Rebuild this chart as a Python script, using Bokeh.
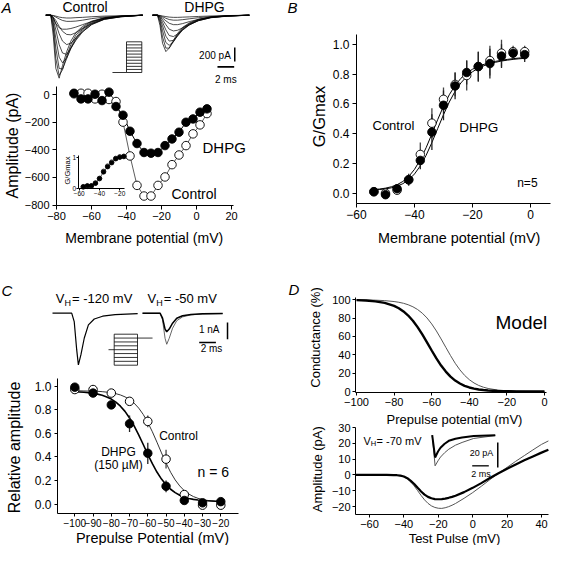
from math import pi
from bokeh.plotting import figure
from bokeh.models import Range1d, FixedTicker, NumeralTickFormatter, Label, LinearAxis
from bokeh.embed import file_html
from bokeh.resources import INLINE

FONT = "Liberation Sans"

# ---------------- Panel A: current traces (ms, pA) ----------------
TRACE_T = [0.0, 0.6, 0.9, 1.2, 1.6, 2.0, 2.5, 3.0, 3.6, 4.4, 5.5, 7.0, 9.0, 11.6]
CTRL_TRACES = [
    [0, 0, -300, -760, -900, -720, -520, -370, -250, -160, -85, -35, -12, 0],
    [0, 0, -200, -620, -860, -780, -580, -420, -285, -180, -95, -40, -14, 0],
    [0, 0, -140, -470, -760, -770, -620, -460, -320, -200, -105, -45, -16, 0],
    [0, 0, -100, -330, -600, -680, -610, -480, -345, -220, -118, -50, -18, 0],
    [0, 0, -60, -210, -420, -540, -560, -470, -360, -240, -130, -56, -20, 0],
    [0, 0, -40, -125, -265, -370, -420, -400, -330, -235, -135, -60, -23, 0],
    [0, 0, -28, -75, -160, -230, -275, -280, -250, -190, -120, -58, -23, 0],
    [0, 0, -40, -120, -180, -200, -200, -190, -170, -135, -90, -45, -18, 0],
    [0, 0, -9, -27, -53, -75, -88, -88, -84, -71, -49, -27, -13, 0],
    [0, 0, -4, -13, -27, -35, -40, -40, -35, -31, -22, -13, -7, 0],
]
DHPG_TRACES = [
    [0, 0, -150, -400, -520, -470, -360, -260, -175, -110, -58, -24, -8, 0],
    [0, 0, -100, -310, -470, -470, -380, -280, -190, -120, -63, -26, -9, 0],
    [0, 0, -70, -220, -390, -430, -380, -295, -205, -130, -68, -29, -10, 0],
    [0, 0, -48, -150, -300, -370, -360, -295, -215, -140, -74, -32, -11, 0],
    [0, 0, -33, -100, -210, -290, -305, -270, -205, -140, -78, -34, -12, 0],
    [0, 0, -22, -64, -135, -200, -225, -215, -180, -130, -78, -36, -14, 0],
    [0, 0, -18, -40, -80, -115, -135, -135, -120, -92, -60, -30, -12, 0],
    [0, 0, -9, -22, -44, -62, -71, -71, -64, -52, -36, -20, -9, 0],
    [0, 0, -4, -11, -20, -27, -31, -31, -28, -24, -18, -11, -5, 0],
]
DHPG_TRACE_START = 12.78          # ms, where the DHPG sweep set is drawn
A_SCALE_PA, A_SCALE_MS = 200, 2
A_STEP_LEVELS = [-80, -72, -64, -56, -48, -40, -32, -24, -16, -8, 0]
A_HOLD, A_HOLD_DUR, A_STEP_DUR = -80, 1.68, 1.83

# ---------------- Panel A: I-V relation ----------------
A_V = [-70, -66, -62, -58, -54, -50, -46, -42, -38, -34, -30, -26, -22, -18, -14, -10, -6, -2, 2, 6]
A_CONTROL = [5, 9, 9, -32, 2, -36, -51, -200, -445, -658, -735, -735, -658, -597, -508, -438, -370, -285, -220, -138]
A_DHPG = [9, -32, -32, 2, -44, 17, -87, -150, -266, -355, -420, -425, -420, -370, -322, -273, -201, -177, -128, -104]
A_INSET_V = [-56, -52, -48, -44, -40, -36, -32, -28, -24, -20, -16]
A_INSET_CTRL = [0.04, 0.06, 0.07, 0.17, 0.31, 0.55, 0.72, 0.85, 0.97, 1.02, 1.04]
A_INSET_DHPG = [0.05, 0.08, 0.08, 0.16, 0.32, 0.53, 0.70, 0.83, 0.96, 1.01, 1.03]

# ---------------- Panel B: activation ----------------
B_V = [-54, -50, -46, -42, -38, -34, -30, -26, -22, -18, -14, -10, -6, -2]
B_CTRL = [0.01, 0.00, 0.02, 0.09, 0.26, 0.47, 0.63, 0.73, 0.79, 0.85, 0.89, 0.94, 0.95, 0.95]
B_CTRL_ERR = [0.01, 0.01, 0.02, 0.03, 0.08, 0.10, 0.08, 0.08, 0.10, 0.10, 0.10, 0.09, 0.04, 0.04]
B_DHPG = [0.01, -0.01, 0.03, 0.09, 0.22, 0.41, 0.59, 0.72, 0.81, 0.85, 0.87, 0.92, 0.94, 0.93]
B_DHPG_ERR = [0.01, 0.01, 0.02, 0.04, 0.06, 0.12, 0.10, 0.09, 0.08, 0.10, 0.10, 0.08, 0.04, 0.05]
B_FIT_V = [-54, -52, -50, -48, -46, -44, -42, -40, -38, -36, -34, -32, -30, -28, -26, -24,
           -22, -20, -18, -16, -14, -12, -10, -8, -6, -4, -2]
B_FIT_CTRL = [.025, .028, .034, .043, .057, .079, .112, .160, .225, .305, .398, .494, .584, .661,
              .723, .771, .806, .832, .851, .865, .876, .885, .892, .898, .903, .907, .910]
B_FIT_DHPG = [.022, .025, .029, .036, .047, .064, .090, .129, .183, .254, .340, .434, .527, .612,
              .684, .740, .783, .815, .839, .856, .869, .879, .887, .893, .898, .902, .905]

# ---------------- Panel C: inactivation ----------------
C_TRACE_T_LEFT = [0, 2.3, 2.6, 2.9, 3.1, 3.4, 3.8, 4.3, 5.0, 6.0, 7.5, 10.2]
C_TRACE_LEFT = [0, 0, -0.5, -2.2, -3.1, -2.5, -1.5, -0.7, -0.35, -0.18, -0.08, -0.03]
C_TRACE_T_RIGHT = [0, 2.1, 2.4, 2.7, 2.9, 3.2, 3.6, 4.1, 4.8, 5.8, 7.2, 9.6]
C_TRACE_CTRL = [0, 0, -0.4, -1.5, -1.86, -1.5, -0.9, -0.45, -0.22, -0.1, -0.05, -0.02]
C_TRACE_DHPG = [0, 0, -0.3, -0.95, -1.11, -0.95, -0.6, -0.3, -0.15, -0.08, -0.04, -0.02]
C_RIGHT_START = 10.78
C_SCALE_NA, C_SCALE_MS = 1, 2
C_PRE_LEVELS = [-100, -90, -80, -70, -60, -50, -40, -30, -20]
C_HOLD, C_TEST = -60, -30
C_HOLD_DUR, C_PRE_DUR, C_TEST_DUR = 0.68, 2.79, 1.8

C_V = [-100, -90, -80, -70, -60, -50, -40, -30, -20]
C_CTRL = [0.97, 0.97, 0.94, 0.87, 0.70, 0.38, 0.08, -0.01, -0.01]
C_CTRL_ERR = [0.01, 0.02, 0.02, 0.03, 0.05, 0.08, 0.02, 0.01, 0.01]
C_DHPG = [0.99, 0.94, 0.84, 0.68, 0.43, 0.15, 0.03, 0.01, 0.02]
C_DHPG_ERR = [0.02, 0.02, 0.03, 0.07, 0.09, 0.05, 0.02, 0.01, 0.01]
C_FIT_V = [-100, -97.5, -95, -92.5, -90, -87.5, -85, -82.5, -80, -77.5, -75, -72.5, -70, -67.5,
           -65, -62.5, -60, -57.5, -55, -52.5, -50, -47.5, -45, -42.5, -40, -37.5, -35, -32.5,
           -30, -27.5, -25, -22.5, -20]
C_FIT_CTRL = [.959, .959, .958, .957, .956, .955, .952, .948, .943, .935, .924, .908, .886, .855,
              .813, .759, .691, .612, .524, .433, .347, .269, .204, .153, .113, .084, .063, .048,
              .038, .031, .026, .022, .020]
C_FIT_DHPG = [.951, .949, .947, .943, .938, .931, .921, .907, .889, .863, .829, .785, .729, .662,
              .586, .504, .421, .342, .271, .211, .163, .125, .096, .074, .059, .047, .039, .034,
              .030, .027, .025, .023, .022]

# ---------------- Panel D: model ----------------
D_TOP_V = [-100, -95, -90, -85, -80, -77.5, -75, -72.5, -70, -67.5, -65, -62.5, -60, -57.5, -55,
           -52.5, -50, -47.5, -45, -42.5, -40, -37.5, -35, -32.5, -30, -25, -20, -15, -10, -5, 0]
D_TOP_DHPG = [99.6, 99.2, 98.3, 96.6, 93.4, 90.8, 87.3, 82.8, 77.1, 70.2, 62.2, 53.6, 44.7, 36.1,
              28.3, 21.7, 16.2, 11.9, 8.7, 6.2, 4.4, 3.1, 2.2, 1.6, 1.1, 0.5, 0.3, 0.1, 0.1, 0.0, 0.0]
D_TOP_CTRL = [99.9, 99.8, 99.6, 99.1, 98.1, 97.3, 96.2, 94.6, 92.4, 89.4, 85.4, 80.2, 73.7, 66.0,
              57.3, 48.2, 39.2, 30.8, 23.6, 17.6, 12.9, 9.3, 6.6, 4.7, 3.3, 1.6, 0.8, 0.4, 0.2, 0.1, 0.0]
D_BOT_V = [-68, -50, -46, -44, -42, -40, -38, -36, -34, -32, -30, -28, -26, -24, -22, -20, -18,
           -16, -14, -12, -10, -5, 0, 5, 10, 15, 20, 25, 30, 35, 40, 44]
D_BOT_CTRL = [0, 0, -0.1, -0.3, -0.6, -1.2, -2.5, -4.5, -7.0, -10.0, -13.0, -15.8, -18.0, -19.6,
              -20.6, -21.1, -21.2, -20.8, -20.1, -19.2, -18.1, -14.8, -11.2, -7.2, -3.0, 1.0, 4.8,
              8.6, 12.2, 15.8, 19.3, 21.5]
D_BOT_DHPG = [0, 0, -0.1, -0.2, -0.5, -1.0, -2.1, -3.8, -5.8, -8.2, -10.5, -12.5, -13.9, -14.8,
              -15.3, -15.4, -15.3, -15.0, -14.5, -13.9, -13.2, -10.9, -8.2, -5.2, -2.0, 1.0, 3.9,
              6.6, 9.2, 11.7, 14.1, 15.9]
D_INSET_T = [0, 0.35, 0.7, 1.0, 1.5, 2.0, 2.8, 3.6, 5.0, 7.6]
D_INSET_DHPG = [0, -17.8, -13.0, -10.0, -6.8, -4.5, -2.8, -1.8, -0.7, 0]
D_INSET_CTRL = [0, -24.5, -20.5, -17.5, -14.0, -11.2, -8.0, -5.8, -2.6, -0.3]
D_SCALE_PA, D_SCALE_MS = 20, 2

# ======================= one canvas, one scale pair per panel =======================
W, H = 551, 545
X0, Y0 = 8, 8                 # canvas origin in page pixels
X1, Y1 = X0 + W, Y0 + H

P = figure(width=W, height=H, x_range=Range1d(X0, X1), y_range=Range1d(Y1, Y0),
           output_backend="svg", toolbar_location=None, title=None,
           x_axis_location=None, y_axis_location=None,
           min_border_left=0, min_border_right=0, min_border_top=0, min_border_bottom=0,
           outline_line_color=None, background_fill_color="white", border_fill_color="white")
P.grid.visible = False


def scale(name, xd, xp, yd, yp):
    """Panel scale: data values xd=(a,b) sit at page px xp; yd=(lo,hi) sit at page px yp."""
    (a, b), (p0, p1) = xd, xp
    sx = (p1 - p0) / (b - a)
    P.extra_x_ranges = {**P.extra_x_ranges, name: Range1d(a - (p0 - X0) / sx, a + (X1 - p0) / sx)}
    (lo, hi), (q0, q1) = yd, yp
    sy = (q0 - q1) / (hi - lo)
    P.extra_y_ranges = {**P.extra_y_ranges, name: Range1d(lo - (Y1 - q0) / sy, lo + (q0 - Y0) / sy)}


def axis(name, dim, loc, bounds, ticks, fs, fmt=None, tick_out=4, standoff=2):
    ax = LinearAxis(x_range_name=name, y_range_name=name, fixed_location=loc, bounds=bounds,
                    ticker=FixedTicker(ticks=ticks))
    if fmt:
        ax.formatter = NumeralTickFormatter(format=fmt)
    ax.axis_line_color = "black"
    ax.axis_line_width = 1
    ax.major_tick_line_color = "black"
    ax.major_tick_out = tick_out
    ax.major_tick_in = 0
    ax.minor_tick_line_color = None
    ax.major_label_text_font = FONT
    ax.major_label_text_font_size = f"{fs}px"
    ax.major_label_text_color = "black"
    ax.major_label_standoff = standoff
    P.add_layout(ax, "below" if dim == "x" else "left")


def line(name, xs, ys, color="black", width=1.0):
    P.line(xs, ys, x_range_name=name, y_range_name=name, line_color=color, line_width=width)


def dots(name, xs, ys, filled, size=8.5, lw=0.9):
    P.scatter(xs, ys, x_range_name=name, y_range_name=name, marker="circle", size=size,
              fill_color="black" if filled else "white", line_color="black", line_width=lw)


def errbars(name, xs, ys, errs, color="#222", width=1.3):
    P.segment(x0=xs, y0=[y - e for y, e in zip(ys, errs)], x1=xs,
              y1=[y + e for y, e in zip(ys, errs)], x_range_name=name, y_range_name=name,
              line_color=color, line_width=width)


def text(x, y, s, size, align="left", style="normal", angle=0.0, xo=0, yo=0):
    P.add_layout(Label(x=x, y=y, text=s, text_font=FONT, text_font_size=f"{size}px",
                       text_align=align, text_baseline="middle", text_font_style=style,
                       text_color="black", angle=angle, x_offset=xo, y_offset=yo))


def vh_text(x, y, rest, size, sub_size, v_w, h_w, drop):
    text(x, y, "V", size)
    text(x, y, "H", sub_size, xo=v_w, yo=-drop)
    text(x, y, rest, size, xo=v_w + h_w)


# ---------- panel letters ----------
for s, lx, ly in [("A", 9, 15), ("B", 295, 15), ("C", 9, 298), ("D", 296, 297)]:
    text(lx, ly, s, 15, style="italic")

# ======================= Panel A traces =======================
scale("at", (0, 10), (53.3, 136.8), (-1000, 0), (92.7, 22.7))
for tr in CTRL_TRACES:
    line("at", TRACE_T, tr, width=0.7)
for tr in DHPG_TRACES:
    line("at", [t + DHPG_TRACE_START for t in TRACE_T], tr, width=0.7)
line("at", [22.63, 22.63], [-461, -461 - A_SCALE_PA], width=1.5)
line("at", [22.56 - A_SCALE_MS, 22.56], [-737, -737], width=1.8)
text(238.3, 63.3, f"{A_SCALE_PA} pA", 10, align="right")
text(233.3, 86.7, f"{A_SCALE_MS} ms", 10, align="center")
text(92.5, 14, "Control", 14, align="center")
text(212, 14, "DHPG", 14, align="center")

scale("ap", (0, A_STEP_DUR), (134, 149.3), (-80, 0), (80, 49.3))
for lvl in A_STEP_LEVELS:
    line("ap", [0, A_STEP_DUR], [lvl, lvl], width=0.8)
line("ap", [0, 0], [min(A_STEP_LEVELS), max(A_STEP_LEVELS)], width=0.8)
line("ap", [A_STEP_DUR, A_STEP_DUR], [min(A_STEP_LEVELS), max(A_STEP_LEVELS)], width=0.8)
line("ap", [-A_HOLD_DUR, 0], [A_HOLD, A_HOLD], width=0.8)

# ======================= Panel A I-V =======================
scale("am", (-80, 20), (64, 239), (-800, 0), (212.5, 102))
axis("am", "x", -800, (-80, 21.1), [-80, -60, -40, -20, 0, 20], 11, tick_out=4, standoff=3)
axis("am", "y", -80, (-800, 58), [-800, -600, -400, -200, 0], 11, tick_out=4, standoff=3)
line("am", A_V, A_CONTROL, color="#333", width=0.8)
line("am", A_V, A_DHPG, width=1)
dots("am", A_V, A_CONTROL, False)
dots("am", A_V, A_DHPG, True)
text(210, 155, "DHPG", 15)
text(179, 201.7, "Control", 14)
text(151.7, 245, "Membrane potential (mV)", 14, align="center")
text(20, 153, "Amplitude (pA)", 16, align="center", angle=pi / 2)

scale("ai", (-60, -20), (86.7, 127.3), (0, 1), (195.7, 165))
axis("ai", "x", 0, (-60.2, -15.5), [-60, -40, -20], 6.5, tick_out=2, standoff=1)
axis("ai", "y", -60.2, (0, 1.06), [0, 1], 6.5, tick_out=2, standoff=1)
line("ai", A_INSET_V, A_INSET_DHPG, width=0.7)
dots("ai", A_INSET_V, A_INSET_CTRL, False, size=4.5, lw=0.7)
dots("ai", A_INSET_V, A_INSET_DHPG, True, size=4.5, lw=0.7)
text(74.5, 178, "G/Gmax", 7.5, align="center", angle=pi / 2)

# ======================= Panel B =======================
scale("b", (-60, 0), (364, 538), (0, 1), (200.7, 51.7))
axis("b", "x", -0.067, (-60, 7), [-60, -40, -20, 0], 12, tick_out=4, standoff=3)
axis("b", "y", -60, (-0.067, 1.067), [0, 0.2, 0.4, 0.6, 0.8, 1.0], 12, fmt="0.0", tick_out=4, standoff=3)
line("b", B_FIT_V, B_FIT_CTRL)
line("b", B_FIT_V, B_FIT_DHPG)
errbars("b", B_V, B_CTRL, B_CTRL_ERR, color="#444")
errbars("b", B_V, B_DHPG, B_DHPG_ERR, color="#222")
dots("b", B_V, B_CTRL, False)
dots("b", B_V, B_DHPG, True)
text(380, 133, "Control", 13)
text(466.7, 135, "DHPG", 13.5)
text(524.7, 190, "n=5", 12)
text(466.7, 245, "Membrane potential (mV)", 14.4, align="center")
text(326.7, 124, "G/Gmax", 16.5, align="center", angle=pi / 2)

# ======================= Panel C traces =======================
scale("ct", (0, 10), (60, 143.5), (-1, 0), (337.4, 320.7))
line("ct", C_TRACE_T_LEFT, C_TRACE_LEFT, width=1.2)
line("ct", [t + C_RIGHT_START for t in C_TRACE_T_RIGHT], C_TRACE_CTRL, color="#555", width=0.9)
line("ct", [t + C_RIGHT_START for t in C_TRACE_T_RIGHT], C_TRACE_DHPG, width=1.5)
line("ct", [20.96, 20.96], [-0.557, -0.557 - C_SCALE_NA], width=1.5)
line("ct", [17.57, 17.57 + C_SCALE_MS], [-1.754, -1.754], width=1.5)
text(227, 337.3, f"{C_SCALE_NA} nA", 10, align="right")
text(219, 356, f"{C_SCALE_MS} ms", 10, align="center")
vh_text(63.3, 306, "= -120 mV", 13, 9, 8.7, 7.5, 4)
vh_text(155, 306, "= -50 mV", 13, 9, 8.7, 7.5, 4)

scale("cp", (0, C_PRE_DUR), (121.7, 145), (-100, -20), (372.7, 341.7))
for lvl in C_PRE_LEVELS:
    line("cp", [0, C_PRE_DUR], [lvl, lvl], width=0.8)
line("cp", [0, 0], [min(C_PRE_LEVELS), max(C_PRE_LEVELS)], width=0.8)
line("cp", [C_PRE_DUR, C_PRE_DUR], [min(C_PRE_LEVELS), max(C_PRE_LEVELS)], width=0.8)
line("cp", [-C_HOLD_DUR, 0], [C_HOLD, C_HOLD], width=0.8)
line("cp", [C_PRE_DUR, C_PRE_DUR + C_TEST_DUR], [C_TEST, C_TEST], width=0.8)

# ======================= Panel C =======================
scale("c", (-100, -20), (82.3, 228.3), (0, 1), (511.5, 393.5))
axis("c", "x", -0.078, (-109.5, -10.3), [-100, -90, -80, -70, -60, -50, -40, -30, -20], 10,
     tick_out=3, standoff=3)
axis("c", "y", -109.5, (-0.078, 1.064), [0, 0.2, 0.4, 0.6, 0.8, 1.0], 12, fmt="0.0", tick_out=3, standoff=3)
line("c", C_FIT_V, C_FIT_CTRL, color="#333", width=1)
line("c", C_FIT_V, C_FIT_DHPG, width=1.6)
errbars("c", C_V, C_CTRL, C_CTRL_ERR, color="#444")
errbars("c", C_V, C_DHPG, C_DHPG_ERR, color="#222")
dots("c", C_V, C_CTRL, False, lw=1)
dots("c", C_V, C_DHPG, True)
text(166.7, 443, "Control", 12)
text(126, 459, "DHPG", 12, align="center")
text(126, 472, "(150 \u00b5M)", 12, align="center")
text(205, 479.3, "n = 6", 14)
text(160, 545, "Prepulse Potential (mV)", 14.5, align="center")
text(21.7, 455, "Relative amplitude", 16, align="center", angle=pi / 2)

# ======================= Panel D top =======================
scale("dt", (-100, 0), (364, 552), (0, 100), (399, 307.3))
axis("dt", "x", -1.1, (-100.5, 1), [-100, -80, -60, -40, -20, 0], 11, tick_out=3, standoff=2)
axis("dt", "y", -100.5, (-1.1, 102.2), [0, 20, 40, 60, 80, 100], 11, tick_out=3, standoff=2)
line("dt", D_TOP_V, D_TOP_CTRL, color="#555", width=1)
line("dt", D_TOP_V, D_TOP_DHPG, width=2.4)
text(503, 330, "Model", 19)
text(462, 426.7, "Prepulse potential (mV)", 13, align="center")
text(323.3, 345, "Conductance (%)", 13, align="center", angle=pi / 2)

# ======================= Panel D bottom =======================
scale("db", (-60, 40), (377, 549), (-20, 0), (514, 482.4))
axis("db", "x", -25.25, (-68.1, 44), [-60, -40, -20, 0, 20, 40], 11, tick_out=3, standoff=2)
axis("db", "y", -68.1, (-25.25, 30), [-20, -10, 0, 10, 20, 30], 11, tick_out=3, standoff=2)
line("db", D_BOT_V, D_BOT_CTRL, color="#555", width=1)
line("db", D_BOT_V, D_BOT_DHPG, width=2.2)
text(462, 546, "Test Pulse (mV)", 13, align="center")
text(324.7, 476.7, "Amplitude (pA)", 13, align="center", angle=pi / 2)

scale("di", (0, 10), (439.7, 522.7), (-20, 0), (467.7, 442.7))
line("di", D_INSET_T, D_INSET_CTRL, color="#555", width=1)
line("di", D_INSET_T, D_INSET_DHPG, width=2)
line("di", [7.9, 7.9], [-5.84, -5.84 - D_SCALE_PA], width=1.5)
line("di", [4.82, 4.82 + D_SCALE_MS], [-24.5, -24.5], width=1.3)
text(489, 460, f"{D_SCALE_PA} pA", 9, align="center")
text(488.5, 481.7, f"{D_SCALE_MS} ms", 9, align="center")
vh_text(371, 448, "= -70 mV", 11, 7.5, 7.3, 5.8, 3)

open("out.html", "w").write(file_html(P, INLINE))
